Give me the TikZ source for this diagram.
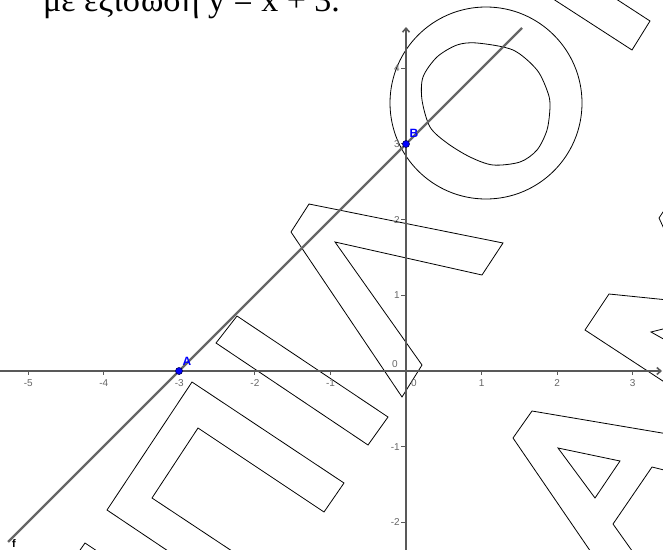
\documentclass[tikz,border=0pt]{standalone}
\usepackage{fontspec}
\setmainfont{Liberation Serif}
\newfontfamily\axfont{Liberation Sans}
\usetikzlibrary{arrows.meta,calc}

\begin{document}
\begin{tikzpicture}[x=1pt,y=-1pt,>={Straight Barb[length=4pt,width=7pt]},
   wm/.style={draw=black,line width=0.8pt,line join=miter},
   axis/.style={draw=black!65,line width=1.6pt},
   tck/.style={draw=black!65,line width=1pt},
   axlab/.style={font=\axfont\fontsize{10}{11}\selectfont,text=black!60,inner sep=0pt},
   pt/.style={circle,fill=blue,draw=blue!35!black,line width=0.6pt,minimum size=7pt,inner sep=0pt},
   ptlab/.style={font=\axfont\bfseries\fontsize{12}{13}\selectfont,text=blue,inner sep=0pt},
   fline/.style={draw=black!60,line width=2.2pt}]
  \useasboundingbox (0,0) rectangle (663,549);
  \clip (0,0) rectangle (663,549);
  \node[font=\fontsize{34}{36}\selectfont,anchor=base west,inner sep=0pt] (title) at (43,11) {με εξίσωση y = x + 3.};
  \draw[wm] (78,553) -- (85,543) -- (100,553);
  \draw[wm] (174,555) -- (107,510) -- (192,382) -- (344,483) -- (324,512) -- (198,428) -- (152,498) -- (238,555);
  \draw[wm] (237,316) -- (388,417) -- (368,445) -- (216,343) -- cycle;
  \draw[wm] (309,204) -- (503,243) -- (482,275) -- (335,242) -- (422,365) -- (402,397) -- (291,232) -- cycle;
  \draw[wm] (486,103) circle[radius=96];
  \draw[wm] plot[smooth cycle] coordinates {(477,43) (513,50) (537,70) (548,93) (550,107) (547,130) (537,150) (520,162) (493,165) (470,157) (447,143) (430,127) (422,100) (423,77) (437,57) (457,45)};
  \draw[wm] (547,-5) -- (632,50) -- (650,21) -- (610,-5);
  \draw[wm] (665,209) -- (659,218) -- (665,231);
  \draw[wm] (668,300) -- (609,294) -- (585,330) -- (672,387);
  \draw[wm] (667,328) -- (651,332) -- (667,341);
  \draw[wm] (668,434) -- (532,411) -- (513,438) -- (593,555);
  \draw[wm] (558,448) -- (620,461) -- (595,498) -- cycle;
  \draw[wm] (668,471) -- (652,467) -- (613,524) -- (635,555);
  \coordinate (xS) at (0,371); \coordinate (xE) at (662,371);
  \coordinate (yS) at (406,552); \coordinate (yE) at (406,27);
  \draw[axis,->] (xS) -- (xE);
  \draw[axis,->] (yS) -- (yE);
  \foreach \k in {-5,-4,-3,-2,-1,1,2,3}{
    \draw[tck] ({406+75.55*\k},371) -- ++(0,4);
    \node[axlab] (xl\k) at ({406+75.55*\k},383) {\k};
  }
  \foreach \k in {-2,-1,1,2,3,4}{
    \draw[tck] (406,{371-75.7*\k}) -- ++(-5,0);
    \node[axlab,anchor=east] (yl\k) at (400,{371-75.7*\k}) {\k};
  }
  \node[axlab] (o1) at (395,364) {0};
  \node[axlab] (o2) at (414,383) {0};
  \coordinate (a) at (179,371); \coordinate (b) at (406,144);
  \draw[fline] ($(a)!-0.753!(b)$) -- ($(a)!1.511!(b)$);
  \node[pt] (A) at (a) {};
  \node[pt] (B) at (b) {};
  \node[ptlab] (labA) at (187,361) {A};
  \node[ptlab] (labB) at (414,133) {B};
  \node[font=\axfont\bfseries\fontsize{11}{12}\selectfont,inner sep=0pt] (labf) at (14,544) {f};
\end{tikzpicture}
\end{document}
